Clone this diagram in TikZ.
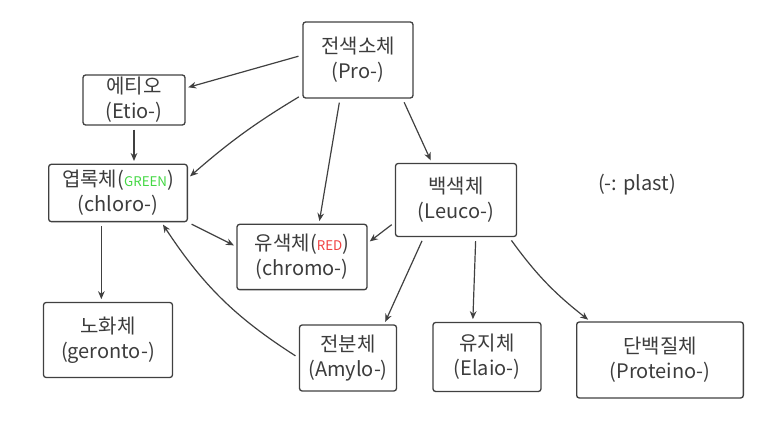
\documentclass[tikz,border=0pt]{standalone}
\usepackage{fontspec}
\setmainfont{Noto Sans CJK KR}
\usepackage{xcolor}
\usetikzlibrary{arrows.meta}
\definecolor{ink}{HTML}{3C3C3C}
\definecolor{pen}{HTML}{404040}
\definecolor{grn}{HTML}{45D845}
\definecolor{rd}{HTML}{F04040}

\begin{document}
\begin{tikzpicture}[x=0.75pt, y=-0.75pt,
    plastid/.style={draw=pen, line width=1pt, rounded corners=2pt, align=center,
      text=ink, inner sep=1pt, font=\fontsize{15}{19}\selectfont},
    tag/.style={font=\fontsize{10}{10}\selectfont},
    arr/.style={-{Stealth[length=6pt,width=5pt]}, draw=pen, line width=0.9pt,
      shorten <=3pt, shorten >=2pt}]
    \useasboundingbox (0,0) rectangle (768,427);

    % Plastids
    \node[plastid, minimum width=82.5pt, minimum height=57pt] (pro) at (358,60)
      {전색소체\\(Pro-)};
    \node[plastid, minimum width=76.5pt, minimum height=37.5pt] (etio) at (134,100)
      {에티오\\(Etio-)};
    \node[plastid, minimum width=104pt, minimum height=43pt] (chloro) at (118,193)
      {엽록체(\textcolor{grn}{\fontsize{10}{10}\selectfont GREEN})\\(chloro-)};
    \node[plastid, minimum width=97.5pt, minimum height=49pt] (chromo) at (302,257)
      {유색체(\textcolor{rd}{\fontsize{10}{10}\selectfont RED})\\(chromo-)};
    \node[plastid, minimum width=90.75pt, minimum height=54.75pt] (leuco) at (456,200)
      {백색체\\(Leuco-)};
    \node[plastid, minimum width=96.75pt, minimum height=56.25pt] (geronto) at (108,340)
      {노화체\\(geronto-)};
    \node[plastid, minimum width=72.75pt, minimum height=49.5pt] (amylo) at (348,358)
      {전분체\\(Amylo-)};
    \node[plastid, minimum width=81pt, minimum height=51.75pt] (elaio) at (487,357)
      {유지체\\(Elaio-)};
    \node[plastid, minimum width=125pt, minimum height=57pt] (proteino) at (660,360)
      {단백질체\\(Proteino-)};

    \node[text=ink, font=\fontsize{15}{19}\selectfont] (plast) at (637,185) {(-: plast)};

    % From Pro-
    \draw[arr] (pro.175) -- (etio.13);
    \draw[arr] (pro.212) to[bend right=5] (chloro.12);
    \draw[arr] (pro.245) -- (chromo.63);
    \draw[arr] (pro.-41) -- (leuco.123);

    % Green / red
    \draw[arr] (etio.south) -- (etio.south |- chloro.north);
    \draw[arr] ([xshift=-5pt]geronto.north |- chloro.south) -- ([xshift=-5pt]geronto.north);
    \draw[arr] (chloro.south east) -- (chromo.171);
    \draw[arr] (leuco.200) -- (chromo.12);
    \draw[arr] (amylo.west) to[bend left=12] (chloro.-34);

    % From Leuco-
    \draw[arr] (leuco.229) -- (amylo.43);
    \draw[arr] (leuco.-62) -- (elaio.112);
    \draw[arr] (leuco.-35) to[bend right=8] (proteino.151);
\end{tikzpicture}
\end{document}
